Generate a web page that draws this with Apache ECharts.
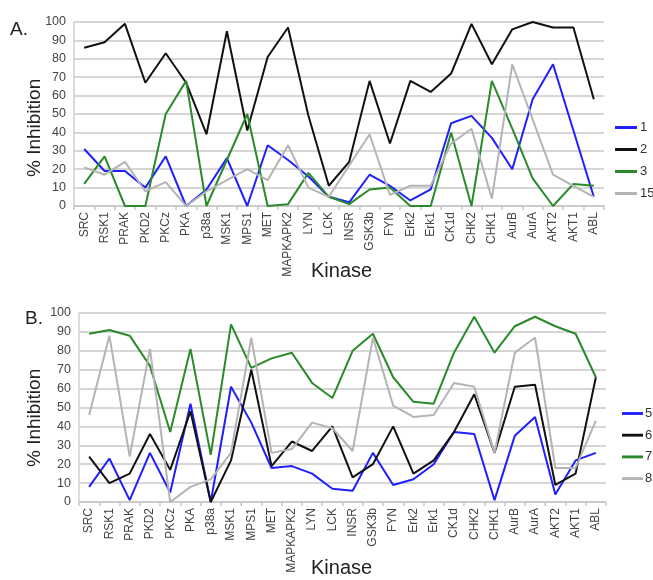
<!DOCTYPE html>
<html>
<head>
<meta charset="utf-8">
<script src="https://cdn.jsdelivr.net/npm/echarts@6/dist/echarts.min.js"></script>
<style>html,body{margin:0;padding:0;background:#fff}#c{width:653px;height:580px}</style>
</head>
<body>
<div id="c"></div>
<script>
const kinases = ["SRC","RSK1","PRAK","PKD2","PKCz","PKA","p38a","MSK1","MPS1","MET","MAPKAPK2","LYN","LCK","INSR","GSK3b","FYN","Erk2","Erk1","CK1d","CHK2","CHK1","AurB","AurA","AKT2","AKT1","ABL"];
const yTicks = [0,10,20,30,40,50,60,70,80,90,100];
// Panel A
const a1  = [31,19,19,10,27,0,9,26,0,33,25,16,5,2,17,11,3,9,45,49,37,20,58,77,41,5];
const a2  = [86,89,99,67,83,67,39,95,41,81,97,49,11,24,68,34,68,62,72,99,77,96,100,97,97,58];
const a3  = [12,27,0,0,50,68,0,25,50,0,1,18,5,1,9,10,0,0,40,0,68,42,15,0,12,11];
const a15 = [21,17,24,8,13,0,8,14,20,14,33,10,5,22,39,6,11,11,34,42,4,77,47,17,11,5];
// Panel B
const b5 = [8,23,1,26,5,52,0,61,42,18,19,15,7,6,26,9,12,20,37,36,1,35,45,4,22,26];
const b6 = [24,10,15,36,17,48,0,22,70,19,32,27,40,13,20,40,15,22,37,57,26,61,62,9,15,66];
const b7 = [89,91,88,72,37,81,25,94,71,76,79,63,55,80,89,66,53,52,79,98,79,93,98,93,89,66];
const b8 = [46,88,24,81,0,8,12,26,87,26,28,42,39,27,87,51,45,46,63,61,26,79,87,18,18,43];

const C = {blue:'#1f1fff', black:'#111111', green:'#2a8a2a', gray:'#b4b4b4'};
const FONT = 'Liberation Sans, Arial, sans-serif';

function xAx(gi){
  return {type:'category', gridIndex:gi, data:kinases, boundaryGap:true,
    axisLine:{lineStyle:{color:'#c8c8c8', width:1.5}},
    axisTick:{show:true, length:4, lineStyle:{color:'#c8c8c8', width:1.5}},
    axisLabel:{rotate:90, interval:0, fontFamily:FONT, fontSize:12, color:'#444', margin:6}};
}
function yAx(gi){
  return {type:'value', gridIndex:gi, min:yTicks[0], max:yTicks[yTicks.length-1], interval:yTicks[1]-yTicks[0],
    axisLine:{show:true, lineStyle:{color:'#d0d0d0', width:1.5}},
    axisTick:{show:false},
    splitLine:{lineStyle:{color:'#d6d6d6', width:2}},
    axisLabel:{fontFamily:FONT, fontSize:12.5, color:'#444', margin:8}};
}
function ser(name, data, color, gi){
  return {name:name, type:'line', xAxisIndex:gi, yAxisIndex:gi, data:data,
    symbol:'none', lineStyle:{color:color, width:2}, itemStyle:{color:color}, animation:false};
}
function txt(x,y,t,size){
  return {type:'text', x:x, y:y, style:{text:t, font:size+'px '+FONT, fill:'#222'}};
}
function vtxt(x,y,t,size){
  return {type:'text', x:x, y:y, rotation:Math.PI/2, style:{text:t, font:size+'px '+FONT, fill:'#222'}};
}
const icon = 'path://M0,4 L22,4 L22,7 L0,7 Z';
const chart = echarts.init(document.getElementById('c'), null, {renderer:'canvas'});
chart.setOption({
  animation:false,
  grid:[
    {left:74, top:22, width:530, height:184},
    {left:79, top:313, width:527, height:189}
  ],
  xAxis:[xAx(0), xAx(1)],
  yAxis:[yAx(0), yAx(1)],
  legend:[
    {data:['1','2','3','15'], orient:'vertical', left:610, top:116, itemGap:9, itemWidth:22, itemHeight:12,
     icon:icon, textStyle:{fontFamily:FONT, fontSize:13, color:'#333', padding:[0,0,0,-2]}},
    {data:['5','6','7','8'], orient:'vertical', left:617, top:402, itemGap:8.7, itemWidth:21, itemHeight:12,
     icon:icon, textStyle:{fontFamily:FONT, fontSize:13, color:'#333', padding:[0,0,0,-3]}}
  ],
  graphic:[
    txt(10,20,'A.',19),
    txt(25,309,'B.',19),
    vtxt(25,177,'% Inhibition',19),
    vtxt(25,467,'% Inhibition',19),
    txt(311,261,'Kinase',20),
    txt(311,558,'Kinase',20)
  ],
  series:[
    ser('1',a1,C.blue,0), ser('2',a2,C.black,0), ser('3',a3,C.green,0), ser('15',a15,C.gray,0),
    ser('5',b5,C.blue,1), ser('6',b6,C.black,1), ser('7',b7,C.green,1), ser('8',b8,C.gray,1)
  ]
});
</script>
</body>
</html>
